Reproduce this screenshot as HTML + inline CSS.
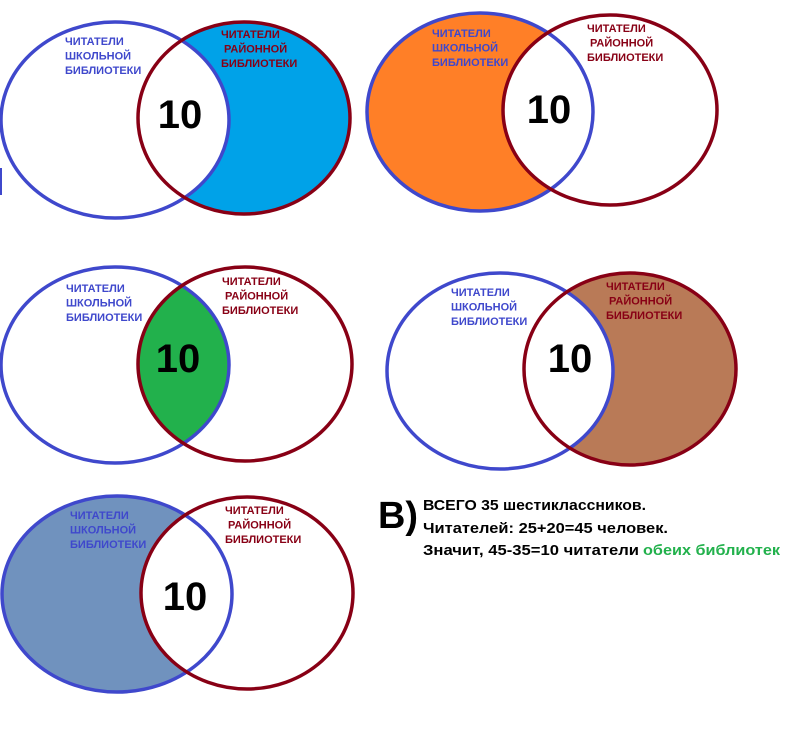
<!DOCTYPE html>
<html><head><meta charset="utf-8"><style>
html,body{margin:0;padding:0;background:#fff;}
svg{display:block;}
.b{fill:#3f48cc;font:bold 11px "Liberation Sans",sans-serif;}
.r{fill:#880015;font:bold 11px "Liberation Sans",sans-serif;}
.n{fill:#000;font:bold 40px "Liberation Sans",sans-serif;text-anchor:middle;}
.t{fill:#000;font:bold 15px "Liberation Sans",sans-serif;}
</style></head><body>
<svg width="800" height="743" viewBox="0 0 800 743" xmlns="http://www.w3.org/2000/svg">
<defs>
<clipPath id="c1b"><ellipse cx="115" cy="120" rx="114" ry="98"/></clipPath>
<clipPath id="c2r"><ellipse cx="610" cy="110" rx="107" ry="95"/></clipPath>
<clipPath id="c3b"><ellipse cx="115" cy="365" rx="114" ry="98"/></clipPath>
<clipPath id="c4b"><ellipse cx="500" cy="371" rx="113" ry="98"/></clipPath>
<clipPath id="c5r"><ellipse cx="247" cy="593" rx="106" ry="96"/></clipPath>
</defs>
<rect width="800" height="743" fill="#fff"/>
<line x1="1" y1="168" x2="1" y2="195" stroke="#3f48cc" stroke-width="2"/>

<!-- D1 -->
<ellipse cx="244" cy="118" rx="106" ry="96" fill="#00a2e8"/>
<ellipse cx="244" cy="118" rx="106" ry="96" fill="#fff" clip-path="url(#c1b)"/>
<ellipse cx="115" cy="120" rx="114" ry="98" fill="none" stroke="#3f48cc" stroke-width="3.5"/>
<ellipse cx="244" cy="118" rx="106" ry="96" fill="none" stroke="#880015" stroke-width="3.5"/>
<text class="b" x="65" y="45">ЧИТАТЕЛИ</text><text class="b" x="65" y="59.5">ШКОЛЬНОЙ</text><text class="b" x="65" y="74">БИБЛИОТЕКИ</text>
<text class="r" x="221" y="38">ЧИТАТЕЛИ</text><text class="r" x="224" y="52.5">РАЙОННОЙ</text><text class="r" x="221" y="67">БИБЛИОТЕКИ</text>
<text class="n" x="180" y="128">10</text>

<!-- D2 -->
<ellipse cx="480" cy="112" rx="113" ry="99" fill="#ff7f27"/>
<ellipse cx="480" cy="112" rx="113" ry="99" fill="#fff" clip-path="url(#c2r)"/>
<ellipse cx="480" cy="112" rx="113" ry="99" fill="none" stroke="#3f48cc" stroke-width="3.5"/>
<ellipse cx="610" cy="110" rx="107" ry="95" fill="none" stroke="#880015" stroke-width="3.5"/>
<text class="b" x="432" y="37">ЧИТАТЕЛИ</text><text class="b" x="432" y="51.5">ШКОЛЬНОЙ</text><text class="b" x="432" y="66">БИБЛИОТЕКИ</text>
<text class="r" x="587" y="32">ЧИТАТЕЛИ</text><text class="r" x="590" y="46.5">РАЙОННОЙ</text><text class="r" x="587" y="61">БИБЛИОТЕКИ</text>
<text class="n" x="549" y="123">10</text>

<!-- D3 -->
<ellipse cx="245" cy="364" rx="107" ry="97" fill="#22b14c" clip-path="url(#c3b)"/>
<ellipse cx="115" cy="365" rx="114" ry="98" fill="none" stroke="#3f48cc" stroke-width="3.5"/>
<ellipse cx="245" cy="364" rx="107" ry="97" fill="none" stroke="#880015" stroke-width="3.5"/>
<text class="b" x="66" y="292">ЧИТАТЕЛИ</text><text class="b" x="66" y="306.5">ШКОЛЬНОЙ</text><text class="b" x="66" y="321">БИБЛИОТЕКИ</text>
<text class="r" x="222" y="285">ЧИТАТЕЛИ</text><text class="r" x="225" y="299.5">РАЙОННОЙ</text><text class="r" x="222" y="314">БИБЛИОТЕКИ</text>
<text class="n" x="178" y="372">10</text>

<!-- D4 -->
<ellipse cx="630" cy="369" rx="106" ry="96" fill="#b97a57"/>
<ellipse cx="630" cy="369" rx="106" ry="96" fill="#fff" clip-path="url(#c4b)"/>
<ellipse cx="500" cy="371" rx="113" ry="98" fill="none" stroke="#3f48cc" stroke-width="3.5"/>
<ellipse cx="630" cy="369" rx="106" ry="96" fill="none" stroke="#880015" stroke-width="3.5"/>
<text class="b" x="451" y="296">ЧИТАТЕЛИ</text><text class="b" x="451" y="310.5">ШКОЛЬНОЙ</text><text class="b" x="451" y="325">БИБЛИОТЕКИ</text>
<text class="r" x="606" y="290">ЧИТАТЕЛИ</text><text class="r" x="609" y="304.5">РАЙОННОЙ</text><text class="r" x="606" y="319">БИБЛИОТЕКИ</text>
<text class="n" x="570" y="372">10</text>

<!-- D5 -->
<ellipse cx="117" cy="594" rx="115" ry="98" fill="#7092be"/>
<ellipse cx="117" cy="594" rx="115" ry="98" fill="#fff" clip-path="url(#c5r)"/>
<ellipse cx="117" cy="594" rx="115" ry="98" fill="none" stroke="#3f48cc" stroke-width="3.5"/>
<ellipse cx="247" cy="593" rx="106" ry="96" fill="none" stroke="#880015" stroke-width="3.5"/>
<text class="b" x="70" y="519">ЧИТАТЕЛИ</text><text class="b" x="70" y="533.5">ШКОЛЬНОЙ</text><text class="b" x="70" y="548">БИБЛИОТЕКИ</text>
<text class="r" x="225" y="514">ЧИТАТЕЛИ</text><text class="r" x="228" y="528.5">РАЙОННОЙ</text><text class="r" x="225" y="543">БИБЛИОТЕКИ</text>
<text class="n" x="185" y="610">10</text>

<!-- text -->
<text x="378" y="528" style="font:bold 38px 'Liberation Sans',sans-serif" fill="#000" textLength="40" lengthAdjust="spacingAndGlyphs">В)</text>
<text class="t" x="423" y="510" textLength="223" lengthAdjust="spacingAndGlyphs">ВСЕГО 35 шестиклассников.</text>
<text class="t" x="423" y="533" textLength="245" lengthAdjust="spacingAndGlyphs">Читателей: 25+20=45 человек.</text>
<text class="t" x="423" y="555" textLength="216" lengthAdjust="spacingAndGlyphs">Значит, 45-35=10 читатели</text>
<text class="t" x="643" y="555" textLength="137" lengthAdjust="spacingAndGlyphs" style="fill:#22b14c">обеих библиотек</text>
</svg>
</body></html>
